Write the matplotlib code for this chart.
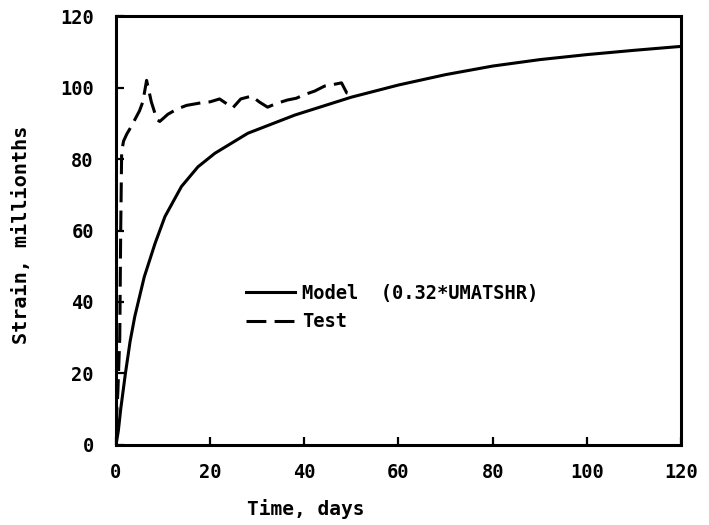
import matplotlib.pyplot as plt
import numpy as np

# creep strain: model vs. test
t_model = [0, 0.5, 1, 2, 3, 4, 6, 8.3, 10.4, 13.9, 17.4, 21, 28, 38, 50, 60, 70, 80, 90,
           100, 110, 120]
eps_model = [0, 4, 10, 20, 29, 36, 47, 56.4, 63.9, 72.3, 77.8, 81.6, 87.2, 92.3, 97.3, 100.7,
             103.6, 106, 107.8, 109.2, 110.4, 111.5]

t_test = [0, 0.4, 0.8, 1.0, 1.2, 1.6, 2.3, 3.2, 4.0, 5.0, 5.7, 6.5, 7.5, 8.7, 9.3, 11, 13,
          15, 18, 20, 22, 24.8, 26.5, 28.8, 30.5, 32.2, 34, 36.4, 38.3, 40, 42.2, 44.3,
          46, 47.9, 49, 50.6]
eps_test = [5, 15, 30, 60, 82, 85, 87, 89, 91, 93.5, 96, 102, 96, 91, 90.5, 92.5, 94,
            95, 95.7, 96, 96.8, 94.3, 96.8, 97.6, 95.9, 94.5, 95.5, 96.5, 97, 98, 99, 100.4,
            100.8, 101.3, 98.5, 98]

xticks = np.arange(0, 121, 20)
yticks = np.arange(0, 121, 20)

plt.rcParams['font.family'] = 'DejaVu Sans Mono'
plt.rcParams['font.weight'] = 'bold'

fig = plt.figure(figsize=(7.09, 5.25), dpi=100)
ax = fig.add_axes([0.1636, 0.1524, 0.7969, 0.8171])

ax.plot(t_model, eps_model, color='black', lw=2.2, label='Model  (0.32*UMATSHR)')
ax.plot(t_test, eps_test, color='black', lw=2.2, dashes=(6.5, 2.7), label='Test')

ax.set_xlim(0, 120)
ax.set_ylim(0, 120)
ax.set_xticks(xticks)
ax.set_yticks(yticks)
ax.tick_params(direction='in', length=6, width=1.6, labelsize=13.5, pad=13)
ax.tick_params(axis='y', pad=16)
for s in ax.spines.values():
    s.set_linewidth(2.2)

ax.set_xlabel('Time, days', fontsize=14, fontweight='bold')
ax.xaxis.set_label_coords(0.335, -0.125)
ax.set_ylabel('Strain, millionths', fontsize=14.5, fontweight='bold')
ax.yaxis.set_label_coords(-0.15, 0.49)

leg = ax.legend(loc='upper left', bbox_to_anchor=(0.2, 0.415), frameon=False,
                fontsize=13.5, handlelength=2.6, handletextpad=0.4, labelspacing=0.5)
for txt in leg.get_texts():
    txt.set_fontweight('bold')

fig.savefig('out.png', dpi=100)
